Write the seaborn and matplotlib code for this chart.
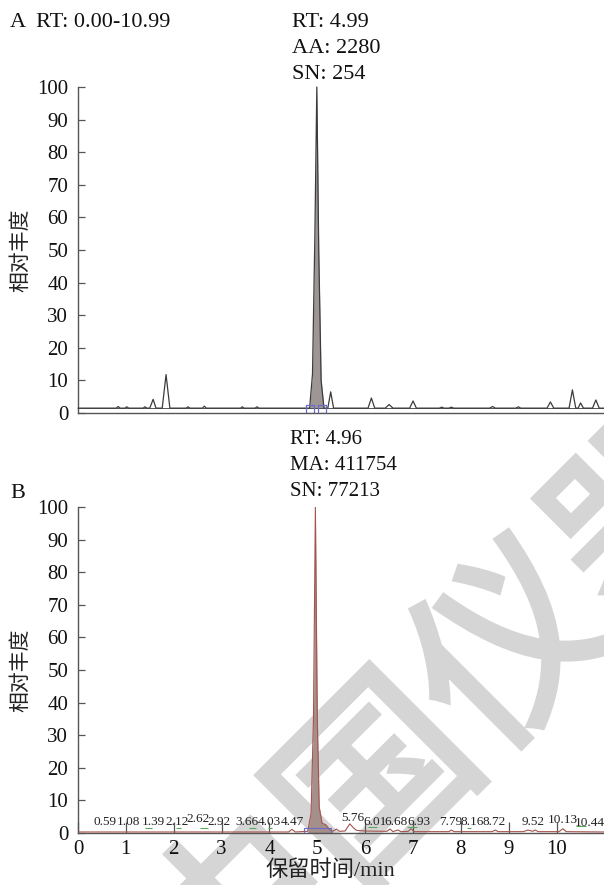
import matplotlib
matplotlib.use("Agg")
import matplotlib.pyplot as plt
import matplotlib.patheffects as pe
import pandas as pd
import seaborn as sns
from matplotlib.patches import Rectangle

# ---- Panel A: chromatogram (retention time / min, relative abundance / %) ----
a_time = [0.00, 0.80, 0.84, 0.88, 0.98, 1.02, 1.06, 1.36, 1.40, 1.44, 1.50, 1.57, 1.63,
          1.76, 1.84, 1.92, 2.26, 2.30, 2.34, 2.60, 2.64, 2.68, 3.40, 3.43, 3.47,
          3.70, 3.74, 3.78, 4.84, 4.90, 4.95, 4.99, 5.03, 5.08, 5.14, 5.22, 5.28,
          5.34, 6.06, 6.13, 6.20, 6.42, 6.50, 6.58, 6.93, 7.00, 7.07, 7.55, 7.60,
          7.65, 7.75, 7.80, 7.85, 8.60, 8.66, 8.72, 9.15, 9.20, 9.25, 9.80, 9.87,
          9.94, 10.26, 10.33, 10.40, 10.45, 10.50, 10.56, 10.75, 10.82, 10.89, 10.99]
a_abund = [1.5, 1.5, 2.0, 1.5, 1.5, 1.9, 1.5, 1.5, 1.9, 1.5, 1.5, 4.2, 1.5,
           1.5, 11.8, 1.5, 1.5, 1.9, 1.5, 1.5, 2.1, 1.5, 1.5, 1.9, 1.5,
           1.5, 1.9, 1.5, 1.5, 12.0, 55.0, 100.0, 50.0, 10.0, 1.5, 1.5, 6.5,
           1.5, 1.5, 4.6, 1.5, 1.5, 2.6, 1.5, 1.5, 3.7, 1.5, 1.5, 1.8,
           1.5, 1.5, 1.8, 1.5, 1.5, 2.0, 1.5, 1.5, 1.9, 1.5, 1.5, 3.4,
           1.5, 1.5, 7.1, 1.5, 1.5, 3.1, 1.5, 1.5, 4.0, 1.5, 1.5]
a_peak_rt = 4.99
a_peak_area = 2280
a_peak_sn = 254
a_peak_bounds = [4.85, 5.10]
a_baseline = 1.5

# ---- Panel B: chromatogram ----
b_time = [0.00, 4.40, 4.47, 4.54, 4.80, 4.87, 4.92, 4.96, 5.00, 5.04, 5.10, 5.18,
          5.26, 5.32, 5.40, 5.46, 5.58, 5.68, 5.76, 5.82, 6.00, 6.45, 6.52, 6.58,
          6.68, 6.75, 6.90, 6.96, 7.02, 7.75, 7.80, 7.86, 8.65, 8.72, 8.78, 9.30,
          9.40, 9.50, 9.55, 9.62, 10.05, 10.13, 10.20, 10.99]
b_abund = [0.3, 0.3, 1.1, 0.3, 0.5, 6.0, 35.0, 100.0, 35.0, 8.0, 3.0, 2.5,
           1.0, 0.5, 1.2, 0.5, 0.6, 2.8, 1.5, 0.8, 0.6, 0.5, 1.2, 0.4,
           0.9, 0.4, 0.5, 1.3, 0.4, 0.4, 0.9, 0.4, 0.4, 0.9, 0.4, 0.4,
           0.9, 0.5, 0.9, 0.4, 0.4, 1.3, 0.4, 0.3]
b_peak_rt = 4.96
b_peak_area = 411754
b_peak_sn = 77213
b_peak_window = [4.72, 5.28]

# labelled minor peaks in panel B
b_label_rt = [0.59, 1.08, 1.39, 2.12, 2.62, 2.92, 3.66, 4.03, 4.47, 5.76,
              6.01, 6.68, 6.93, 7.79, 8.16, 8.72, 9.52, 10.13, 10.44]
b_label_x = [0.57, 1.06, 1.57, 2.07, 2.50, 2.95, 3.52, 3.99, 4.47, 5.74,
             6.21, 6.65, 7.13, 7.78, 8.24, 8.70, 9.51, 10.12, 10.69]
b_label_y = [3.4, 3.4, 3.4, 3.4, 4.2, 3.4, 3.4, 3.4, 3.4, 4.5,
             3.4, 3.4, 3.4, 3.4, 3.4, 3.4, 3.4, 4.0, 3.2]
# integration baselines of the minor peaks (start, end, level)
b_base_start = [1.40, 2.05, 2.55, 3.58, 3.98, 6.05, 6.88, 8.12, 10.40]
b_base_end = [1.55, 2.15, 2.72, 3.72, 4.06, 6.25, 7.08, 8.22, 10.62]
b_base_level = [1.6, 1.5, 1.4, 1.5, 1.4, 1.8, 1.8, 1.5, 2.0]

x_range = [0.00, 10.99]
y_ticks = list(range(0, 101, 10))
x_ticks = list(range(0, 11))

sns.set_theme(style="ticks")
plt.rcParams["font.family"] = ["Liberation Serif", "Noto Sans CJK SC"]
plt.rcParams["axes.unicode_minus"] = False

fig = plt.figure(figsize=(6.04, 8.85), dpi=100, facecolor="white")

# site watermark, drawn behind both (transparent) axes
wm_col = "#d5d5d5"
fig.text(0.745, 0.186, "中国仪器", fontsize=138, rotation=45, rotation_mode="anchor",
         ha="center", va="center", color=wm_col, family="Noto Sans CJK SC",
         fontweight="normal", zorder=-5,
         path_effects=[pe.withStroke(linewidth=4, foreground=wm_col,
                                     joinstyle="miter", capstyle="butt")])

ax_a = fig.add_axes([0.1291, 0.5333, 0.8709, 0.3684])
ax_b = fig.add_axes([0.1291, 0.0588, 0.8709, 0.3684])

spine_col = "#555555"
for ax in (ax_a, ax_b):
    ax.set_facecolor("none")
    ax.set_xlim(*x_range)
    ax.set_ylim(0, 100)
    ax.set_yticks(y_ticks)
    for s in ("top", "right"):
        ax.spines[s].set_visible(False)
    for s in ("left", "bottom"):
        ax.spines[s].set_color(spine_col)
        ax.spines[s].set_linewidth(1.0)
    ax.tick_params(axis="y", direction="in", length=5, width=0.9, color=spine_col,
                   labelsize=15, pad=7, labelcolor="#111111")
    ax.set_ylabel("相对丰度", fontsize=15, color="#222222")
    ax.yaxis.set_label_coords(-0.088, 0.5)

# ---- Panel A ----
df_a = pd.DataFrame({"rt": a_time, "abund": a_abund})
peak_a = df_a[(df_a.rt >= 4.84) & (df_a.rt <= 5.14)]
ax_a.fill_between(peak_a.rt, a_baseline, peak_a.abund, color="#9d9694", lw=0, zorder=2)
sns.lineplot(data=df_a, x="rt", y="abund", ax=ax_a, color="#3c3c3c", lw=0.9,
             sort=False, estimator=None, zorder=3, clip_on=False)
ax_a.axhline(a_baseline, xmin=0, xmax=1, color="#3c3c3c", lw=0.6, zorder=2)
sns.scatterplot(x=a_peak_bounds, y=[a_baseline - 0.3] * 2, ax=ax_a, marker="s", s=30,
                facecolor="none", edgecolor="#6a6acb", linewidth=0.9, zorder=4)
ax_a.set_xticks([])
ax_a.set_xlabel("")
ax_a.text(-0.129, 1.199, f"A  RT: {x_range[0]:.2f}-{x_range[1]:.2f}", transform=ax_a.transAxes,
          fontsize=16, va="center", ha="left", color="#111111")
xform_a = ax_a.get_xaxis_transform()
for i, line in enumerate([f"RT: {a_peak_rt:.2f}", f"AA: {a_peak_area}", f"SN: {a_peak_sn}"]):
    ax_a.text(4.47, 1.199 - i * 0.081, line, transform=xform_a, fontsize=16,
              va="center", ha="left", color="#111111")

# ---- Panel B ----
df_b = pd.DataFrame({"rt": b_time, "abund": b_abund})
peak_b = df_b[(df_b.rt >= 4.80) & (df_b.rt <= 5.32)]
ax_b.fill_between(peak_b.rt, 0, peak_b.abund, color="#a58f8b", lw=0, zorder=2)
sns.lineplot(data=df_b, x="rt", y="abund", ax=ax_b, color="#a4534d", lw=0.8,
             sort=False, estimator=None, zorder=3)
ax_b.add_patch(Rectangle((b_peak_window[0], 0.1), b_peak_window[1] - b_peak_window[0], 1.3,
                         fill=False, edgecolor="#6a6acb", lw=0.8, zorder=4))
ax_b.hlines(b_base_level, b_base_start, b_base_end, color="#5aa85a", lw=0.8, zorder=3)
for rt, x, y in zip(b_label_rt, b_label_x, b_label_y):
    ax_b.text(x, y, f"{rt:.2f}", fontsize=9.5, ha="center", va="center", color="#222222",
              zorder=5)
ax_b.set_xticks(x_ticks)
ax_b.tick_params(axis="x", direction="in", length=8, width=0.9, color=spine_col,
                 labelsize=15, pad=5, labelcolor="#111111")
ax_b.set_xlabel("保留时间/min", fontsize=16, color="#222222")
ax_b.xaxis.set_label_coords(0.479, -0.085)
ax_b.text(-0.129, 1.040, "B", transform=ax_b.transAxes, fontsize=16, va="center",
          ha="left", color="#111111")
xform_b = ax_b.get_xaxis_transform()
for i, line in enumerate([f"RT: {b_peak_rt:.2f}", f"MA: {b_peak_area}", f"SN: {b_peak_sn}"]):
    ax_b.text(4.43, 1.2055 - i * 0.0785, line, transform=xform_b, fontsize=15,
              va="center", ha="left", color="#111111")

fig.savefig("out.png", dpi=100, facecolor="white")
